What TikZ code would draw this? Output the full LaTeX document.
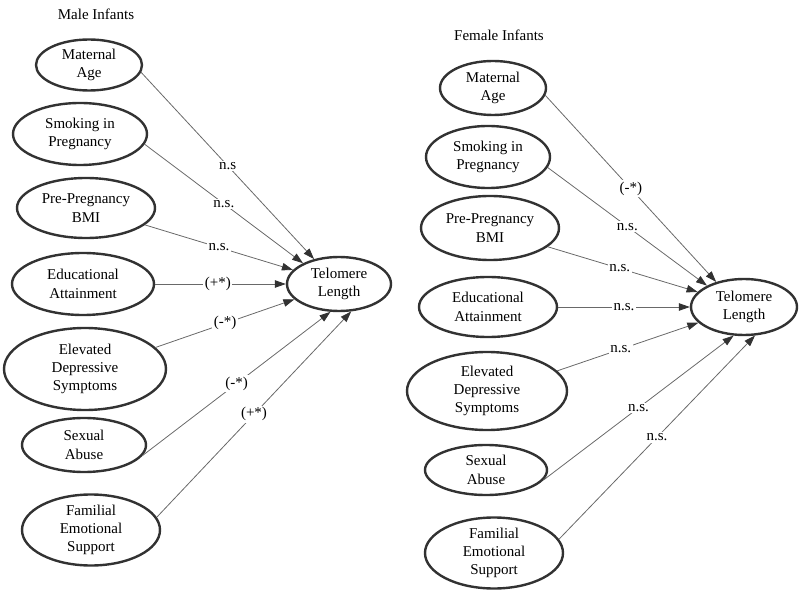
\documentclass[tikz,border=0pt]{standalone}
\usepackage{fontspec}
\setmainfont{Liberation Serif}
\usetikzlibrary{%
	shapes.geometric,%
	arrows.meta
}
\definecolor{linegray}{RGB}{105,105,105}
\definecolor{rimgray}{RGB}{50,50,50}

\begin{document}
\begin{tikzpicture}[x=1pt,y=-1pt,
	font=\rmfamily\fontsize{15}{18.3}\selectfont,
	var/.style={ellipse,draw=rimgray,line width=2.4pt,inner sep=0pt,align=center},
	effect/.style={draw=linegray,line width=0.8pt,-{Triangle[length=11pt,width=7.5pt,color=rimgray]}},
	coef/.style={fill=white,inner sep=1.5pt,pos=0.5}]
			\useasboundingbox (0,0) rectangle (800,593);
			% Male panel
			\node (mTitle) at (96,14) {Male Infants};
			\node[var,minimum width=106pt,minimum height=51pt] (mAge) at (89,65) {Maternal\\Age};
			\node[var,minimum width=134pt,minimum height=62pt] (mSmoke) at (80,134) {Smoking in\\Pregnancy};
			\node[var,minimum width=138pt,minimum height=60pt] (mBMI) at (86,208) {Pre-Pregnancy\\BMI};
			\node[var,minimum width=142pt,minimum height=62pt] (mEdu) at (83,284) {Educational\\Attainment};
			\node[var,minimum width=162pt,minimum height=82pt] (mDep) at (85,369) {Elevated\\Depressive\\Symptoms};
			\node[var,minimum width=124pt,minimum height=54pt] (mAbuse) at (84,445) {Sexual\\Abuse};
			\node[var,minimum width=138pt,minimum height=70pt] (mSupport) at (91,530) {Familial\\Emotional\\Support};
			\node[var,minimum width=104pt,minimum height=54pt] (mTel) at (339,284) {Telomere\\Length};
			
			\draw[effect] (mAge.-8) -- node[coef]{n.s} (mTel.135);
			\draw[effect] (mSmoke.-9) -- node[coef]{n.s.} (mTel.150);
			\draw[effect] (mBMI.-16) -- node[coef]{n.s.} (mTel.163);
			\draw[effect] (mEdu.east) -- node[coef,pos=0.48]{(+*)} (mTel.west);
			\draw[effect] (mDep.17) -- node[coef]{(-*)} (mTel.199);
			\draw[effect] (mAbuse.-10) -- node[coef]{(-*)} (mTel.253);
			\draw[effect] (mSupport.11) -- node[coef]{(+*)} (mTel.294);
			
			% Female panel
			\node (fTitle) at (499,35) {Female Infants};
			\node[var,minimum width=106pt,minimum height=54pt] (fAge) at (493,88) {Maternal\\Age};
			\node[var,minimum width=124pt,minimum height=62pt] (fSmoke) at (488,157) {Smoking in\\Pregnancy};
			\node[var,minimum width=138pt,minimum height=64pt] (fBMI) at (490,228) {Pre-Pregnancy\\BMI};
			\node[var,minimum width=138pt,minimum height=60pt] (fEdu) at (488,307) {Educational\\Attainment};
			\node[var,minimum width=160pt,minimum height=78pt] (fDep) at (487,391) {Elevated\\Depressive\\Symptoms};
			\node[var,minimum width=122pt,minimum height=50pt] (fAbuse) at (486,470) {Sexual\\Abuse};
			\node[var,minimum width=138pt,minimum height=68pt] (fSupport) at (494,553) {Familial\\Emotional\\Support};
			\node[var,minimum width=106pt,minimum height=56pt] (fTel) at (744,307) {Telomere\\Length};
			
			\draw[effect] (fAge.-8) -- node[coef]{(-*)} (fTel.138);
			\draw[effect] (fSmoke.-10) -- node[coef]{n.s.} (fTel.150);
			\draw[effect] (fBMI.-18) -- node[coef,pos=0.48]{n.s.} (fTel.162);
			\draw[effect] (fEdu.east) -- node[coef]{n.s.} (fTel.west);
			\draw[effect] (fDep.16) -- node[coef,pos=0.45]{n.s.} (fTel.199);
			\draw[effect] (fAbuse.-10) -- node[coef]{n.s.} (fTel.250);
			\draw[effect] (fSupport.12) -- node[coef]{n.s.} (fTel.291);
		\end{tikzpicture}
\end{document}
